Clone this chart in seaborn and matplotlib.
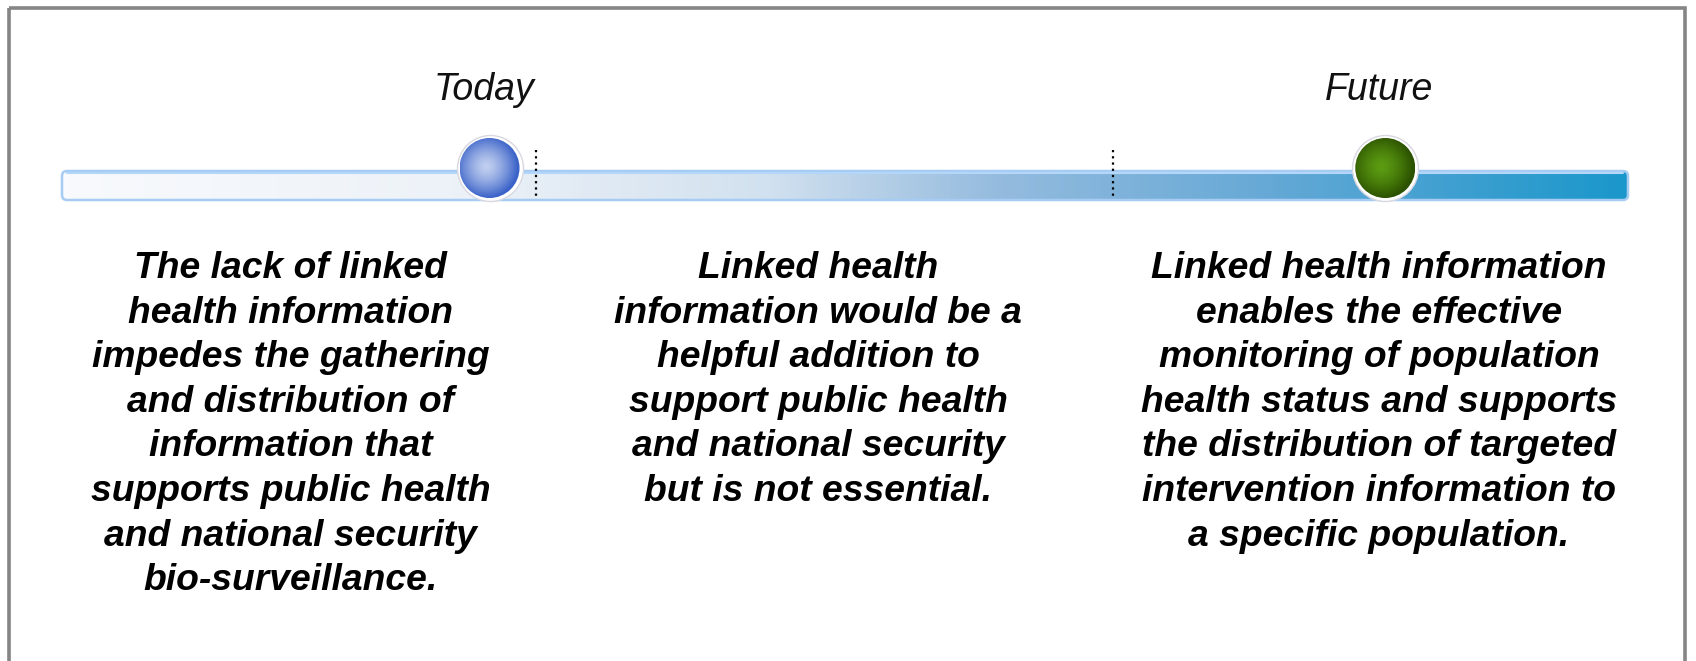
import numpy as np
import pandas as pd
import matplotlib
matplotlib.use("Agg")
import matplotlib.pyplot as plt
import seaborn as sns
from matplotlib.patches import FancyBboxPatch, Circle, Rectangle
from matplotlib.colors import LinearSegmentedColormap, to_rgb

# ---- data ----
milestones = ["Today", "Future"]
milestone_pos = [27.3, 84.5]          # position along timeline, % of bar length
divider_pos = [30.3, 67.1]            # dotted dividers, % of bar length
column_centers = [14.6, 48.3, 84.1]   # text column centers, % of bar length
column_texts = [
    ["The lack of linked", "health information", "impedes the gathering",
     "and distribution of", "information that", "supports public health",
     "and national security", "bio-surveillance."],
    ["Linked health", "information would be a", "helpful addition to",
     "support public health", "and national security", "but is not essential."],
    ["Linked health information", "enables the effective",
     "monitoring of population", "health status and supports",
     "the distribution of targeted", "intervention information to",
     "a specific population."],
]

sns.set_theme(style="white")
plt.rcParams['font.family'] = ['Liberation Sans', 'DejaVu Sans']

W, H = 1696, 661
fig = plt.figure(figsize=(W / 100, H / 100), dpi=100)
ax = fig.add_axes([0, 0, 1, 1])
ax.set_xlim(0, W)
ax.set_ylim(H, 0)
ax.axis("off")

# outer frame
ax.add_patch(Rectangle((9, 8), 1676, 670, fill=False, edgecolor="#858585", lw=2.6, zorder=1))

# timeline bar
x0, x1 = 62, 1628
y_top, y_bot = 171, 200
def tx(p):
    return x0 + (x1 - x0) * p / 100.0

grad = LinearSegmentedColormap.from_list("bar", [
    (0.0, "#f8fafd"), (0.25, "#edf2f8"), (0.45, "#d2e1ef"),
    (0.6, "#94bbde"), (0.77, "#66a9d6"), (1.0, "#1b97cb")])
gx = np.linspace(0, 1, 600)[None, :]
bar_patch = FancyBboxPatch((x0, y_top), x1 - x0, y_bot - y_top,
                           boxstyle="round,pad=0,rounding_size=5",
                           facecolor="none", edgecolor="#a6ccf4", lw=1.8, zorder=3)
ax.add_patch(bar_patch)
im = ax.imshow(gx, cmap=grad, extent=(x0, x1, y_bot, y_top), aspect="auto", zorder=2,
               interpolation="bilinear")
clip_patch = FancyBboxPatch((x0, y_top), x1 - x0, y_bot - y_top,
                            boxstyle="round,pad=0,rounding_size=5",
                            facecolor="none", edgecolor="none")
ax.add_patch(clip_patch)
im.set_clip_path(clip_patch)
# top highlight line
ax.plot([x0 + 5, x1 - 5], [y_top + 1.5, y_top + 1.5], color="#b4d6f8", lw=1.5, zorder=3)

# dotted dividers
for p in divider_pos:
    ax.plot([tx(p), tx(p)], [150, 196], color="black", lw=1.6,
            linestyle=(0, (1, 1.8)), zorder=4)

# milestone markers (white ring via seaborn scatter)
cy = 168
r = 31
df = pd.DataFrame({"x": [tx(p) for p in milestone_pos], "y": [cy, cy], "name": milestones})
sns.scatterplot(data=df, x="x", y="y", ax=ax, s=(2 * (r + 2) * 0.72) ** 2,
                color="white", edgecolor="#d8d8e0", linewidth=1.0, zorder=5, legend=False)
ax.set_xlim(0, W)
ax.set_ylim(H, 0)
ax.axis("off")

styles = {
    "Today": ("#c0cff0", "#3a62c8"),
    "Future": ("#5c9c12", "#2c5200"),
}
for name, px in zip(milestones, df["x"]):
    c_in, c_out = styles[name]
    n = 200
    yy, xx = np.mgrid[-1:1:n * 1j, -1:1:n * 1j]
    d = np.clip(np.sqrt((xx + 0.12) ** 2 + (yy + 0.05) ** 2) / 1.05, 0, 1)
    a = np.array(to_rgb(c_in)); b = np.array(to_rgb(c_out))
    img = a[None, None, :] * (1 - d[..., None] ** 1.4) + b[None, None, :] * (d[..., None] ** 1.4)
    rr = r - 1
    im2 = ax.imshow(img, extent=(px - rr, px + rr, cy + rr, cy - rr), zorder=6,
                    interpolation="bilinear")
    circ = Circle((px, cy), rr, facecolor="none", edgecolor="none")
    ax.add_patch(circ)
    im2.set_clip_path(circ)
    ax.text(px - 6, 100, name, ha="center", va="baseline", fontsize=27,
            style="italic", color="#111111", zorder=7)

# column texts
base0 = 278
step = 44.6
for p, lines in zip(column_centers, column_texts):
    for i, line in enumerate(lines):
        ax.text(tx(p), base0 + i * step, line, ha="center", va="baseline",
                fontsize=26.8, fontweight="bold", style="italic", color="black", zorder=7)

fig.savefig("out.png", dpi=100)
